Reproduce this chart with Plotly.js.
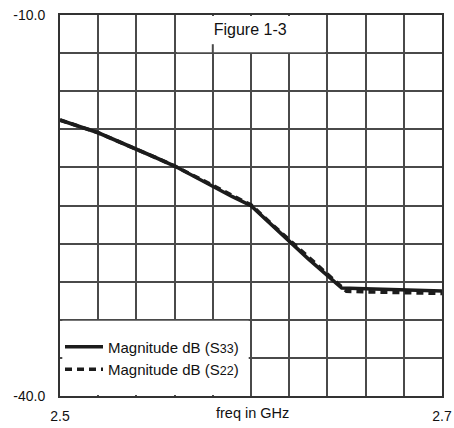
<!DOCTYPE html>
<html>
<head>
<meta charset="utf-8">
<script src="https://cdn.plot.ly/plotly-3.0.1.min.js"></script>
<style>html,body{margin:0;padding:0;background:#fff;}#chart{width:454px;height:428px;}</style>
</head>
<body>
<div id="chart"></div>
<script>
// Data
const freqS33 = [2.50, 2.51, 2.52, 2.53, 2.54, 2.55, 2.56, 2.57, 2.58, 2.59, 2.60, 2.61, 2.62, 2.63, 2.64, 2.6475, 2.66, 2.67, 2.68, 2.69, 2.70];
const magS33  = [-18.27, -18.78, -19.27, -19.92, -20.55, -21.22, -21.89, -22.68, -23.52, -24.29, -25.02, -26.45, -27.80, -29.20, -30.55, -31.50, -31.55, -31.60, -31.64, -31.69, -31.73];
const freqS22 = [2.50, 2.51, 2.52, 2.53, 2.54, 2.55, 2.56, 2.57, 2.58, 2.59, 2.60, 2.61, 2.62, 2.63, 2.64, 2.65, 2.66, 2.67, 2.68, 2.69, 2.70];
const magS22  = [-18.27, -18.78, -19.27, -19.92, -20.55, -21.22, -21.89, -22.62, -23.42, -24.20, -24.95, -26.35, -27.68, -29.05, -30.42, -31.75, -31.80, -31.83, -31.86, -31.89, -31.92];
// grid positions (one per division) and their labels (only the ends are labelled)
const xTickVals = [2.50, 2.52, 2.54, 2.56, 2.58, 2.60, 2.62, 2.64, 2.66, 2.68, 2.70];
const xTickText = ['2.5', '', '', '', '', '', '', '', '', '', '2.7'];
const yTickVals = [-10, -13, -16, -19, -22, -25, -28, -31, -34, -37, -40];
const yTickText = ['-10.0', '', '', '', '', '', '', '', '', '', '-40.0'];
const nameS33 = 'Magnitude dB (S<span style="font-size:12.5px">33</span>)';
const nameS22 = 'Magnitude dB (S<span style="font-size:12.5px">22</span>)';
const chartTitle = 'Figure 1-3';
const xLabel = 'freq in GHz';

const ink = '#1c1c1c';
const gridc = '#4a4a4a';
const font = {family: 'Liberation Sans, Arial, sans-serif', size: 14, color: '#111'};

const traces = [
  {x: freqS33, y: magS33, type: 'scatter', mode: 'lines', name: nameS33,
   legendgroup: 'a', line: {color: ink, width: 3.6}},
  {x: freqS22, y: magS22, type: 'scatter', mode: 'lines', name: nameS22,
   legendgroup: 'b', line: {color: ink, width: 3.6, dash: '7px,5px'}}
];

const layout = {
  width: 454, height: 428,
  margin: {l: 60, r: 12, t: 15, b: 32},
  paper_bgcolor: '#fff', plot_bgcolor: '#fff',
  font: font,
  showlegend: true,
  title: {text: chartTitle, font: {family: font.family, size: 16, color: '#111'},
          x: 0.551, xanchor: 'center', xref: 'container', y: 0.932, yanchor: 'middle', yref: 'container'},
  xaxis: {range: [2.5, 2.7], showgrid: true, gridcolor: gridc, gridwidth: 2,
          tickmode: 'array', tickvals: xTickVals, ticktext: xTickText, ticks: '',
          showline: true, mirror: true, linecolor: '#333', linewidth: 2, zeroline: false,
          ticklabelstandoff: 6, tickfont: {size: 14}},
  yaxis: {range: [-40, -10], showgrid: true, gridcolor: gridc, gridwidth: 2,
          tickmode: 'array', tickvals: yTickVals, ticktext: yTickText, ticks: '',
          showline: true, mirror: true, linecolor: '#333', linewidth: 2, zeroline: false,
          ticklabelstandoff: 10, tickfont: {size: 14}},
  legend: {x: 0.0, y: 0.172, xanchor: 'left', yanchor: 'top', bgcolor: 'rgba(0,0,0,0)',
           borderwidth: 0, tracegroupgap: 5, font: {size: 15}, traceorder: 'normal',
           itemwidth: 38},
  annotations: [
    {text: xLabel, xref: 'paper', yref: 'paper', x: 0.503, y: -0.045, xanchor: 'center', yanchor: 'middle',
     showarrow: false, font: {size: 14.5}}
  ],
  shapes: [
    // white box behind the chart caption (top row)
    {type: 'rect', xref: 'x', yref: 'y', x0: 2.5612, x1: 2.6388, y0: -12.93, y1: -10.08,
     fillcolor: '#ffffff', opacity: 1, line: {width: 0}, layer: 'above'},
    {type: 'line', xref: 'x', yref: 'y', x0: 2.58, x1: 2.58, y0: -12.3, y1: -13,
     line: {color: gridc, width: 2}, layer: 'above'},
    // white box behind the legend
    {type: 'rect', xref: 'x', yref: 'y', x0: 2.5012, x1: 2.5988, y0: -39.92, y1: -34.07,
     fillcolor: '#ffffff', opacity: 1, line: {width: 0}, layer: 'above'}
  ]
};

Plotly.newPlot('chart', traces, layout, {displayModeBar: false, staticPlot: true});
</script>
</body>
</html>
